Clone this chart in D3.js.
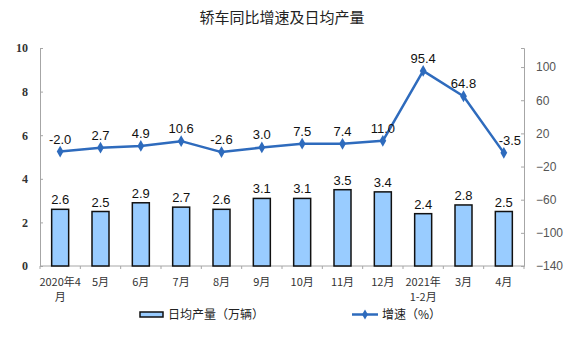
<!DOCTYPE html>
<html><head><meta charset="utf-8">
<script src="https://cdn.jsdelivr.net/npm/d3@7"></script>
<style>body{margin:0;background:#fff}svg{display:block}</style>
</head><body>
<svg id="c" width="576" height="358"></svg>
<script>
const categories = ["2020年4\n月","5月","6月","7月","8月","9月","10月","11月","12月","2021年\n1-2月","3月","4月"];
const dailyOutput = [2.6,2.5,2.9,2.7,2.6,3.1,3.1,3.5,3.4,2.4,2.8,2.5];
const growth = [-2.0,2.7,4.9,10.6,-2.6,3.0,7.5,7.4,11.0,95.4,64.8,-3.5];
const leftTicks = [0,2,4,6,8,10];
const rightTicks = [-140,-100,-60,-20,20,60,100];
const title = "轿车同比增速及日均产量";
const barLegend = "日均产量（万辆）";
const lineLegend = "增速（%）";

const svg = d3.select("#c");
const L = 40, R = 524, T = 48, B = 266;
const x = d3.scaleBand().domain(d3.range(categories.length)).range([L, R]).paddingInner(0).paddingOuter(0);
const yL = d3.scaleLinear().domain([0,10]).range([B, T]);
const yR = d3.scaleLinear().domain([-140,123]).range([B, T]);
const axisCol = "#a6a6a6";
const blue = "#2e6bbd";

svg.append("text").attr("x", 282).attr("y", 23).attr("text-anchor","middle")
  .attr("font-family","'Noto Sans CJK SC'").attr("font-size",15).attr("fill","#222").text(title);

// left axis
const gl = svg.append("g").attr("transform",`translate(${L},0)`)
  .call(d3.axisLeft(yL).tickValues(leftTicks).tickSize(-3).tickPadding(12).tickFormat(d3.format("d")));
gl.select(".domain").attr("stroke",axisCol);
gl.selectAll(".tick line").attr("stroke",axisCol);
gl.selectAll(".tick text").attr("font-family","'Liberation Serif'").attr("font-size",12).attr("font-weight","bold").attr("fill","#333");

// right axis
const gr = svg.append("g").attr("transform",`translate(${R},0)`)
  .call(d3.axisRight(yR).tickValues(rightTicks).tickSize(-3).tickPadding(12).tickFormat(d => d < 0 ? "\u2212" + Math.abs(d) : d));
gr.select(".domain").attr("stroke",axisCol);
gr.selectAll(".tick line").attr("stroke",axisCol);
gr.selectAll(".tick text").attr("font-family","'Liberation Sans'").attr("font-size",12).attr("fill","#555");

// bottom axis
svg.append("line").attr("x1",L).attr("x2",R).attr("y1",B).attr("y2",B).attr("stroke",axisCol);
svg.selectAll(".xt").data(d3.range(categories.length+1)).enter().append("line")
  .attr("x1", i => i < categories.length ? x(i) : R).attr("x2", i => i < categories.length ? x(i) : R)
  .attr("y1",B).attr("y2",B+3).attr("stroke",axisCol);

const xl = svg.selectAll(".xl").data(categories).enter().append("text")
  .attr("text-anchor","middle").attr("font-family","'Noto Sans CJK SC'").attr("font-size",11).attr("fill","#333");
xl.each(function(d,i){
  const lines = d.split("\n");
  const t = d3.select(this);
  lines.forEach((s,k) => t.append("tspan").attr("x", x(i)+x.bandwidth()/2).attr("y", 286 + k*15).text(s));
});

// bars
const bw = 17;
svg.selectAll(".bar").data(dailyOutput).enter().append("rect")
  .attr("x",(d,i)=> x(i)+x.bandwidth()/2 - bw/2).attr("width",bw)
  .attr("y", d=>yL(d)).attr("height", d=>B - yL(d))
  .attr("fill","#99ccff").attr("stroke","#111").attr("stroke-width",1.5);
svg.selectAll(".bl").data(dailyOutput).enter().append("text")
  .attr("x",(d,i)=> x(i)+x.bandwidth()/2).attr("y", d=>yL(d)-5)
  .attr("text-anchor","middle").attr("font-family","'Liberation Sans'").attr("font-size",13).attr("fill","#111")
  .text(d=>d.toFixed(1));

// line
const cx = i => x(i)+x.bandwidth()/2;
svg.append("path").datum(growth)
  .attr("d", d3.line().x((d,i)=>cx(i)).y(d=>yR(d)))
  .attr("fill","none").attr("stroke",blue).attr("stroke-width",2.5).attr("stroke-linejoin","round");
const diamond = d3.symbol().type(d3.symbolDiamond).size(40);
svg.selectAll(".mk").data(growth).enter().append("path")
  .attr("d", diamond).attr("transform",(d,i)=>`translate(${cx(i)},${yR(d)})`).attr("fill",blue);
svg.selectAll(".ll").data(growth).enter().append("text")
  .attr("x",(d,i)=> cx(i) + (i===growth.length-1 ? 6 : 0)).attr("y", d=>yR(d)-8)
  .attr("text-anchor","middle").attr("font-family","'Liberation Sans'").attr("font-size",13).attr("fill","#111")
  .text(d=>d.toFixed(1));

// legend
svg.append("rect").attr("x",140).attr("y",312).attr("width",23).attr("height",5)
  .attr("fill","#99ccff").attr("stroke","#111").attr("stroke-width",1.5);
svg.append("text").attr("x",168).attr("y",319).attr("font-family","'Noto Sans CJK SC'").attr("font-size",12).attr("fill","#222").text(barLegend);
svg.append("line").attr("x1",352).attr("x2",378).attr("y1",314.5).attr("y2",314.5).attr("stroke",blue).attr("stroke-width",2.5);
svg.append("path").attr("d",d3.symbol().type(d3.symbolDiamond).size(30)).attr("transform","translate(365,314.5)").attr("fill",blue);
svg.append("text").attr("x",382).attr("y",319).attr("font-family","'Noto Sans CJK SC'").attr("font-size",12).attr("fill","#222").text(lineLegend);
</script>
</body></html>
